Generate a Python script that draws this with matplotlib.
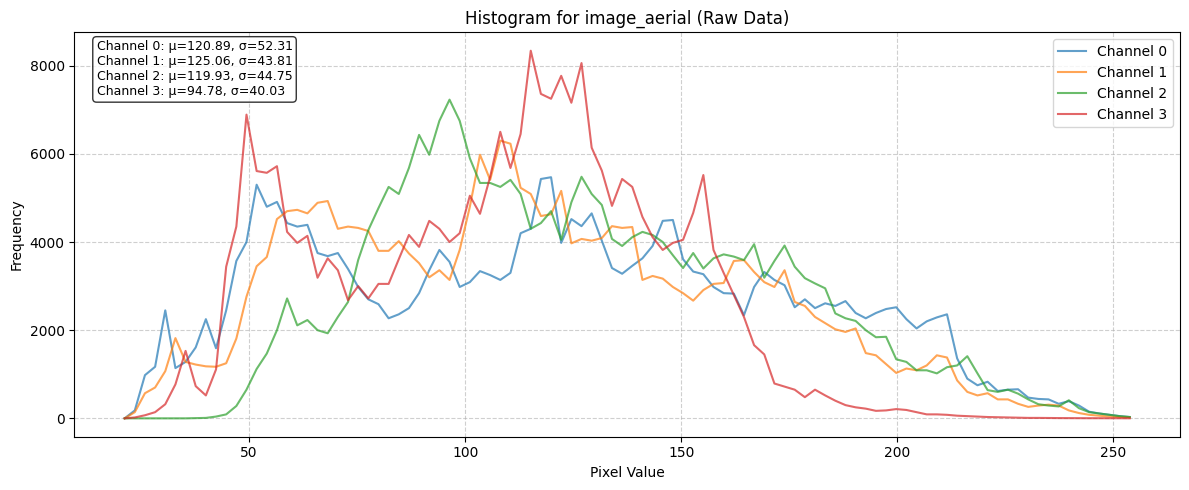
import numpy as np
import matplotlib
matplotlib.use("Agg")
import matplotlib.pyplot as plt

# histogram bins (100 bins between min and max pixel value)
bin_lo, bin_hi, n_bins = 20, 255, 100

channel_0 = [0, 180, 980, 1170, 2450, 1140, 1280, 1610, 2250, 1590,
             2450, 3570, 4000, 5300, 4800, 4910, 4430, 4350, 4390, 3750,
             3680, 3750, 3390, 2980, 2700, 2590, 2270, 2360, 2500, 2840,
             3360, 3820, 3550, 2980, 3090, 3340, 3250, 3140, 3300, 4200,
             4300, 5430, 5470, 3980, 4520, 4360, 4650, 4030, 3410, 3280,
             3460, 3630, 3910, 4480, 4500, 3610, 3330, 3270, 2980, 2840,
             2830, 2340, 2980, 3320, 3140, 3020, 2520, 2700, 2500, 2610,
             2550, 2660, 2390, 2270, 2390, 2480, 2520, 2250, 2040, 2200,
             2290, 2360, 1360, 900, 750, 830, 620, 650, 660, 470,
             440, 430, 330, 390, 290, 150, 110, 80, 50, 30]

channel_1 = [0, 140, 570, 700, 1070, 1820, 1280, 1220, 1180, 1170,
             1250, 1810, 2760, 3450, 3660, 4520, 4700, 4730, 4650, 4890,
             4930, 4300, 4350, 4320, 4250, 3800, 3800, 4020, 3740, 3520,
             3200, 3360, 3140, 3820, 4800, 5980, 5410, 6300, 6230, 5230,
             5090, 4590, 4630, 5160, 3970, 4070, 4030, 4090, 4360, 4320,
             4340, 3140, 3230, 3170, 2980, 2840, 2670, 2910, 3050, 3070,
             3570, 3590, 3320, 3090, 2980, 3360, 2640, 2550, 2300, 2160,
             2020, 1960, 2040, 1480, 1430, 1230, 1030, 1130, 1090, 1200,
             1430, 1380, 860, 600, 520, 570, 430, 430, 330, 260,
             290, 310, 290, 180, 120, 80, 60, 40, 30, 20]

channel_2 = [0, 0, 0, 0, 0, 0, 0, 5, 10, 40,
             90, 280, 650, 1120, 1470, 2000, 2720, 2110, 2230, 2000,
             1930, 2300, 2640, 3590, 4270, 4770, 5250, 5090, 5680, 6430,
             5980, 6750, 7230, 6750, 5900, 5340, 5340, 5250, 5410, 5090,
             4300, 4430, 4700, 4050, 4900, 5480, 5090, 4840, 4070, 3910,
             4110, 4230, 4160, 4000, 3700, 3410, 3750, 3400, 3630, 3720,
             3670, 3590, 3950, 3190, 3570, 3920, 3440, 3180, 3060, 2950,
             2380, 2270, 2210, 2000, 1840, 1850, 1340, 1280, 1090, 1090,
             1020, 1160, 1200, 1410, 1020, 640, 600, 650, 560, 430,
             320, 290, 270, 410, 230, 140, 110, 80, 50, 30]

channel_3 = [0, 20, 70, 140, 320, 770, 1530, 730, 520, 1110,
             3440, 4350, 6890, 5610, 5570, 5720, 4230, 3980, 4140, 3190,
             3630, 3360, 2680, 3000, 2720, 3050, 3050, 3610, 4160, 3890,
             4480, 4300, 4000, 4200, 5050, 4640, 5480, 6500, 5680, 6450,
             8340, 7360, 7250, 7770, 7160, 8060, 6140, 5620, 4820, 5430,
             5250, 4570, 4110, 3820, 3980, 4050, 4660, 5520, 3820, 3300,
             2800, 2300, 1660, 1450, 790, 720, 650, 480, 650, 520,
             400, 300, 250, 220, 170, 180, 210, 190, 140, 90,
             90, 80, 60, 50, 40, 30, 25, 20, 15, 10,
             10, 8, 6, 5, 4, 3, 3, 2, 2, 1]

stats = [(120.89, 52.31), (125.06, 43.81), (119.93, 44.75), (94.78, 40.03)]

edges = np.linspace(bin_lo, bin_hi, n_bins + 1)
centers = (edges[:-1] + edges[1:]) / 2

fig, ax = plt.subplots(figsize=(12, 5), dpi=100)

for i, counts in enumerate([channel_0, channel_1, channel_2, channel_3]):
    ax.plot(centers, counts, linewidth=1.5, alpha=0.7, label=f"Channel {i}")

txt = "\n".join(f"Channel {i}: \u03bc={m:.2f}, \u03c3={s:.2f}" for i, (m, s) in enumerate(stats))
ax.text(0.02, 0.98, txt, transform=ax.transAxes, fontsize=9, va="top",
        bbox=dict(boxstyle="round", facecolor="white", alpha=0.8))

ax.set_title("Histogram for image_aerial (Raw Data)")
ax.set_xlabel("Pixel Value")
ax.set_ylabel("Frequency")
ax.grid(True, linestyle="--", alpha=0.6)
ax.legend(loc="upper right")

plt.tight_layout()
plt.savefig("out.png", bbox_inches="tight")
